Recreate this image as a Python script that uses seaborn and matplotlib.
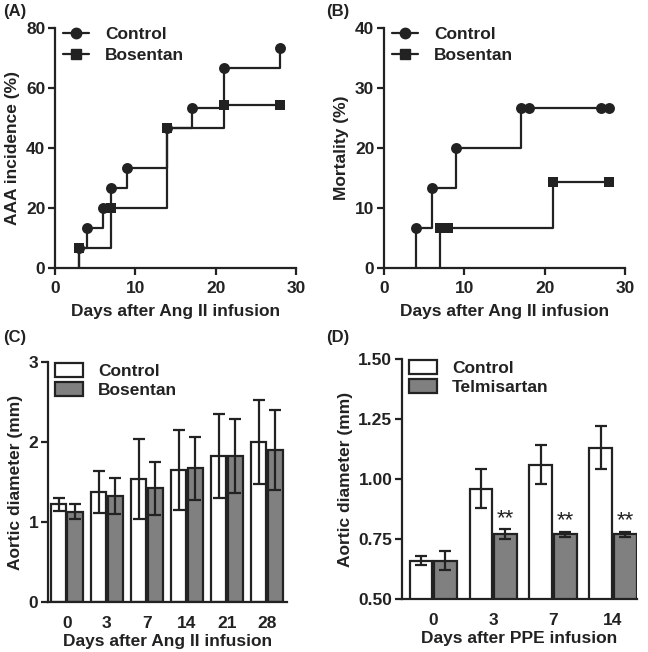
import matplotlib
matplotlib.use("Agg")
import matplotlib.pyplot as plt
import numpy as np
import pandas as pd
import seaborn as sns
from matplotlib.patches import Patch
from matplotlib.lines import Line2D

# ---- data ----
# (A) AAA incidence, step curves (first point = start of the curve at 0 %)
a_ctrl_days = [3, 3, 4, 6, 7, 9, 14, 17, 21, 28]
a_ctrl_pct = [0, 6.7, 13.3, 20, 26.7, 33.3, 46.7, 53.3, 66.7, 73.3]
a_bos_days = [3, 3, 7, 14, 21, 28]
a_bos_pct = [0, 6.7, 20, 46.7, 54.2, 54.2]

# (B) mortality
b_ctrl_days = [4, 4, 6, 9, 17, 18, 27, 28]
b_ctrl_pct = [0, 6.7, 13.3, 20, 26.7, 26.7, 26.7, 26.7]
b_bos_days = [7, 7, 8, 21, 28]
b_bos_pct = [0, 6.7, 6.7, 14.3, 14.3]

# (C) aortic diameter, Ang II model
c_days = ['0', '3', '7', '14', '21', '28']
c_ctrl = [1.22, 1.375, 1.54, 1.65, 1.825, 2.0]
c_ctrl_err = [0.085, 0.26, 0.50, 0.50, 0.53, 0.52]
c_bos = [1.13, 1.325, 1.42, 1.67, 1.825, 1.90]
c_bos_err = [0.09, 0.23, 0.33, 0.39, 0.46, 0.50]

# (D) aortic diameter, PPE model
d_days = ['0', '3', '7', '14']
d_ctrl = [0.66, 0.96, 1.06, 1.13]
d_ctrl_err = [0.02, 0.08, 0.08, 0.09]
d_tel = [0.66, 0.77, 0.77, 0.77]
d_tel_err = [0.04, 0.02, 0.01, 0.01]
d_sig = ['', '**', '**', '**']

INK = '#222222'
GREY = '#808080'
FS = 12.5

sns.set_style('ticks')
plt.rcParams['font.family'] = ['Liberation Sans', 'DejaVu Sans']
plt.rcParams['font.weight'] = 'bold'
plt.rcParams['axes.labelweight'] = 'bold'
plt.rcParams['axes.edgecolor'] = INK
plt.rcParams['axes.linewidth'] = 1.6
plt.rcParams['xtick.color'] = INK
plt.rcParams['ytick.color'] = INK
plt.rcParams['text.color'] = INK
plt.rcParams['axes.labelcolor'] = INK

fig = plt.figure(figsize=(6.48, 6.52), dpi=100)
W, H = 648.0, 652.0


def px_axes(left, top, right, bottom):
    return fig.add_axes([left / W, 1 - bottom / H, (right - left) / W, (bottom - top) / H])


def style(ax):
    sns.despine(ax=ax)
    ax.tick_params(direction='out', length=5, width=1.6, labelsize=FS, pad=2)
    for t in ax.get_xticklabels() + ax.get_yticklabels():
        t.set_fontweight('bold')


def step_panel(ax, curves, ymax, ystep, ylabel):
    for days, pct, mk in curves:
        df = pd.DataFrame({'day': days, 'pct': pct})
        sns.lineplot(data=df, x='day', y='pct', ax=ax, color=INK, lw=1.6,
                     drawstyle='steps-post', estimator=None, sort=False)
        sns.scatterplot(data=df.iloc[1:], x='day', y='pct', ax=ax, color=INK,
                        marker=mk, s=62, edgecolor=INK, linewidth=0, zorder=5)
    ax.set_xlim(0, 30)
    ax.set_ylim(0, ymax)
    ax.set_xticks([0, 10, 20, 30])
    ax.set_yticks(np.arange(0, ymax + 1, ystep))
    ax.set_xlabel('Days after Ang II infusion', fontsize=FS, labelpad=6)
    ax.set_ylabel(ylabel, fontsize=FS)
    handles = [Line2D([], [], color=INK, lw=1.6, marker='o', ms=7.5),
               Line2D([], [], color=INK, lw=1.6, marker='s', ms=7.5)]
    ax.legend(handles, ['Control', 'Bosentan'], loc='upper left', frameon=False,
              bbox_to_anchor=(-0.03, 1.07), handlelength=1.5,
              labelspacing=0.35, handletextpad=0.9, prop={'weight': 'bold', 'size': FS})
    style(ax)
    ax.tick_params(axis='x', pad=4)


def bar_panel(ax, days, ctrl, ctrl_err, trt, trt_err, trt_name, ylim, yticks, fmt, xlabel, sig=None):
    df = pd.DataFrame({'day': days * 2,
                       'val': ctrl + trt,
                       'grp': ['Control'] * len(days) + [trt_name] * len(days)})
    sns.barplot(data=df, x='day', y='val', hue='grp', ax=ax, errorbar=None,
                palette=['white', GREY], edgecolor=INK, linewidth=1.6,
                width=0.82, gap=0.08, legend=False)
    for cont, err in zip(ax.containers, [ctrl_err, trt_err]):
        xs = [p.get_x() + p.get_width() / 2 for p in cont.patches]
        ys = [p.get_height() for p in cont.patches]
        ax.errorbar(xs, ys, yerr=err, fmt='none', ecolor=INK, elinewidth=1.6,
                    capsize=4, capthick=1.6, zorder=4)
    if sig is not None:
        cont = ax.containers[1]
        for p, e, s in zip(cont.patches, trt_err, sig):
            if s:
                ax.text(p.get_x() + p.get_width() / 2, p.get_height() + e + 0.002, s,
                        ha='center', va='bottom', fontsize=16, fontweight='normal')
    ax.set_ylim(*ylim)
    ax.set_yticks(yticks)
    ax.set_yticklabels([fmt.format(v) for v in yticks])
    ax.set_xlabel(xlabel, fontsize=FS, labelpad=2)
    ax.set_ylabel('Aortic diameter (mm)', fontsize=FS)
    handles = [Patch(facecolor='white', edgecolor=INK, lw=1.6),
               Patch(facecolor=GREY, edgecolor=INK, lw=1.6)]
    ax.legend(handles, ['Control', trt_name], loc='upper left', frameon=False,
              bbox_to_anchor=(-0.035, 1.06), handlelength=1.6, handleheight=0.8,
              labelspacing=0.2, handletextpad=0.85, prop={'weight': 'bold', 'size': FS})
    style(ax)
    ax.tick_params(axis='x', length=0, pad=10)


# (A)
axA = px_axes(55, 28, 296, 268)
step_panel(axA, [(a_ctrl_days, a_ctrl_pct, 'o'), (a_bos_days, a_bos_pct, 's')],
           80, 20, 'AAA incidence (%)')

# (B)
axB = px_axes(384, 28, 625, 268)
step_panel(axB, [(b_ctrl_days, b_ctrl_pct, 'o'), (b_bos_days, b_bos_pct, 's')],
           40, 10, 'Mortality (%)')

# (C)
axC = px_axes(48, 362, 287, 602)
bar_panel(axC, c_days, c_ctrl, c_ctrl_err, c_bos, c_bos_err, 'Bosentan',
          (0, 3), [0, 1, 2, 3], '{:g}', 'Days after Ang II infusion')
axC.set_xlim(-0.47, 5.5)

# (D)
axD = px_axes(402, 359, 637, 599)
bar_panel(axD, d_days, d_ctrl, d_ctrl_err, d_tel, d_tel_err, 'Telmisartan',
          (0.5, 1.5), [0.5, 0.75, 1.0, 1.25, 1.5], '{:.2f}', 'Days after PPE infusion', sig=d_sig)
axD.set_xlim(-0.52, 3.4)

for lab, (x, y) in zip(['(A)', '(B)', '(C)', '(D)'],
                       [(3, 4), (326, 4), (3, 330), (326, 330)]):
    fig.text(x / W, 1 - y / H, lab, ha='left', va='top', fontsize=12, fontweight='bold')

fig.savefig('out.png', dpi=100)
